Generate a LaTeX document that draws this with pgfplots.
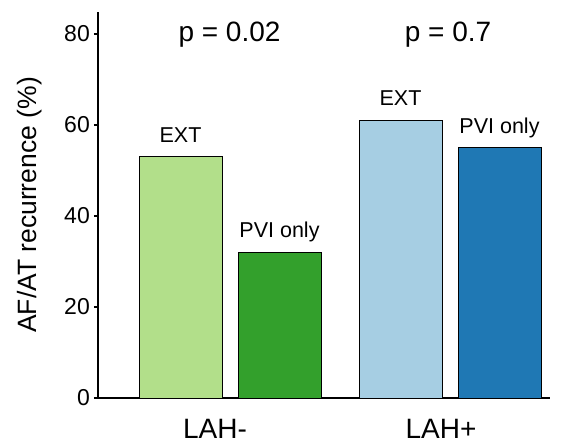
\documentclass[border=0pt]{standalone}
\usepackage{fontspec}
\setmainfont{Liberation Sans}
\usepackage{pgfplots}
\pgfplotsset{compat=1.18}
\definecolor{lgreen}{HTML}{B2DF8A}
\definecolor{dgreen}{HTML}{33A02C}
\definecolor{lblue}{HTML}{A6CEE3}
\definecolor{dblue}{HTML}{1F78B4}
\begin{document}
\begin{tikzpicture}
\path[use as bounding box] (-98pt,-48pt) rectangle (466pt,398pt);
\begin{axis}[
  at={(0pt,0pt)}, anchor=south west,
  scale only axis, width=452pt, height=386pt,
  xmin=98, xmax=550, ymin=0, ymax=84.84,
  axis x line*=bottom, axis y line*=left,
  axis line style={line width=1.6pt, black},
  ytick={0,20,40,60,80},
  xtick={215,441}, xticklabels={LAH-,LAH+},
  x tick style={draw=none},
  y tick style={line width=1.2pt, black},
  tick align=outside, major tick length=4pt,
  /pgf/number format/assume math mode=true,
  yticklabel style={font=\fontsize{23}{27}\selectfont, inner sep=0pt, xshift=-4pt},
  xticklabel style={font=\fontsize{28}{33}\selectfont, anchor=base, inner sep=0pt, yshift=-37pt},
  ylabel={AF/AT recurrence (\%)},
  ylabel style={font=\fontsize{26.5}{31}\selectfont, at={(axis description cs:-0.135,0.5)}, anchor=base},
  ybar, bar width=83, bar shift=0pt,
  clip=false,
  nodes near coords, point meta=explicit symbolic,
  every node near coord/.append style={font=\fontsize{21.5}{26}\selectfont, anchor=base, yshift=14.5pt, inner sep=0pt, black},
]
\addplot[fill=lgreen, draw=black, line width=0.9pt] coordinates {(180.5,53) [EXT]};
\addplot[fill=dgreen, draw=black, line width=0.9pt] coordinates {(279.5,32) [PVI only]};
\addplot[fill=lblue, draw=black, line width=0.9pt] coordinates {(400.5,61) [EXT]};
\addplot[fill=dblue, draw=black, line width=0.9pt] coordinates {(499.5,55) [PVI only]};
\node[anchor=base, font=\fontsize{28}{33}\selectfont] at (axis cs:229.5,78.46) {p = 0.02};
\node[anchor=base, font=\fontsize{28}{33}\selectfont] at (axis cs:448,78.46) {p = 0.7};
\end{axis}
\end{tikzpicture}
\end{document}
